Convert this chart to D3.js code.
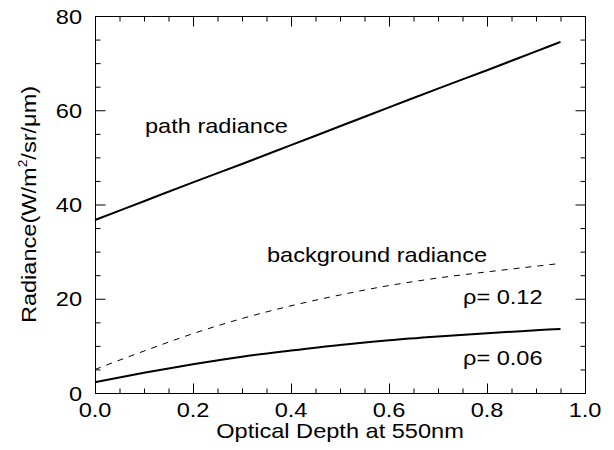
<!DOCTYPE html>
<html>
<head>
<meta charset="utf-8">
<script src="https://cdn.jsdelivr.net/npm/d3@7"></script>
<style>
  body { margin: 0; background: #fff; }
  text { font-family: "Liberation Sans", Arial, Helvetica, sans-serif; fill: #000; }
</style>
</head>
<body>
<div id="chart"></div>
<script>
// values
var tau = [0, 0.1, 0.2, 0.3, 0.4, 0.5, 0.6, 0.7, 0.8, 0.9, 0.95];
var pathRadiance = [36.7, 40.7, 44.7, 48.6, 52.6, 56.6, 60.6, 64.6, 68.5, 72.5, 74.5];
var backgroundRadiance = [5.0, 8.9, 12.6, 15.8, 18.5, 20.8, 22.8, 24.4, 25.7, 26.9, 27.5];
var rho006 = [2.3, 4.3, 6.1, 7.7, 9.0, 10.2, 11.2, 12.0, 12.7, 13.3, 13.6];

var xMajor = [0, 0.2, 0.4, 0.6, 0.8, 1.0];
var xMinor = [0.05, 0.1, 0.15, 0.25, 0.3, 0.35, 0.45, 0.5, 0.55, 0.65, 0.7, 0.75, 0.85, 0.9, 0.95];
var yMajor = [0, 20, 40, 60, 80];
var yMinor = [5, 10, 15, 25, 30, 35, 45, 50, 55, 65, 70, 75];

var w = 614, h = 450;
var pLeft = 95, pRight = 585, pTop = 16, pBottom = 393; // plot box
var fs = 20.5;   // font size
var sx = 1.15;   // the original font runs wider than Liberation Sans

var svg = d3.select("#chart").append("svg")
    .attr("width", w)
    .attr("height", h);

var x = d3.scaleLinear().domain([0, 1]).range([pLeft, pRight]);
var y = d3.scaleLinear().domain([0, 80]).range([pBottom, pTop]);

//frame
svg.append("rect")
    .attr("x", pLeft + 0.5).attr("y", pTop + 0.5)
    .attr("width", pRight - pLeft).attr("height", pBottom - pTop)
    .attr("fill", "none").attr("stroke", "#000").attr("stroke-width", 1);

// ticks point inward on all four sides
function ticks(axisFn, vals, size, tr) {
    var g = svg.append("g")
        .attr("transform", tr)
        .call(axisFn.tickValues(vals).tickSizeInner(-size).tickSizeOuter(0).tickFormat(""));
    g.select(".domain").remove();
    g.selectAll("line").attr("stroke", "#000").attr("stroke-width", 1);
}
ticks(d3.axisBottom(x), xMajor, 10, "translate(0," + (pBottom + 0.5) + ")");
ticks(d3.axisBottom(x), xMinor, 5, "translate(0," + (pBottom + 0.5) + ")");
ticks(d3.axisTop(x), xMajor, 10, "translate(0," + (pTop + 0.5) + ")");
ticks(d3.axisTop(x), xMinor, 5, "translate(0," + (pTop + 0.5) + ")");
ticks(d3.axisLeft(y), yMajor, 10, "translate(" + (pLeft + 0.5) + ",0)");
ticks(d3.axisLeft(y), yMinor, 5, "translate(" + (pLeft + 0.5) + ",0)");
ticks(d3.axisRight(y), yMajor, 10, "translate(" + (pRight + 0.5) + ",0)");
ticks(d3.axisRight(y), yMinor, 5, "translate(" + (pRight + 0.5) + ",0)");

// text helper, stretched along its own direction
function label(str, px, py, anchor, rot) {
    return svg.append("text")
        .attr("transform", "translate(" + px + "," + py + ")" + (rot ? " rotate(" + rot + ")" : "") + " scale(" + sx + ",1)")
        .attr("text-anchor", anchor)
        .attr("font-size", fs)
        .text(str);
}

xMajor.forEach(function(v) {
    label(d3.format(".1f")(v), x(v), 417, "middle");
});
yMajor.forEach(function(v) {
    label(String(v), 82, y(v) + 7.5, "end");
});

label("Optical Depth at 550nm", (pLeft + pRight) / 2, 438, "middle");

var yt = label("", 35.5, (pTop + pBottom) / 2, "middle", -90);
yt.append("tspan").text("Radiance(W/m");
yt.append("tspan").attr("font-size", 12).attr("dy", -9).text("2");
yt.append("tspan").attr("dy", 9).text("/sr/\u03bcm)");

// curves
var line = d3.line()
    .x(function(d) { return x(d[0]); })
    .y(function(d) { return y(d[1]); })
    .curve(d3.curveMonotoneX);

svg.append("path")
    .datum(d3.zip(tau, pathRadiance))
    .attr("d", line)
    .attr("fill", "none").attr("stroke", "#000").attr("stroke-width", 2);

svg.append("path")
    .datum(d3.zip(tau, backgroundRadiance))
    .attr("d", line)
    .attr("fill", "none").attr("stroke", "#000").attr("stroke-width", 1)
    .attr("stroke-dasharray", "6,6");

svg.append("path")
    .datum(d3.zip(tau, rho006))
    .attr("d", line)
    .attr("fill", "none").attr("stroke", "#000").attr("stroke-width", 2);

label("path radiance", 145, 133, "start");
label("background radiance", 267, 262, "start");
label("\u03c1= 0.12", 463, 304, "start");
label("\u03c1= 0.06", 463, 365, "start");
</script>
</body>
</html>
